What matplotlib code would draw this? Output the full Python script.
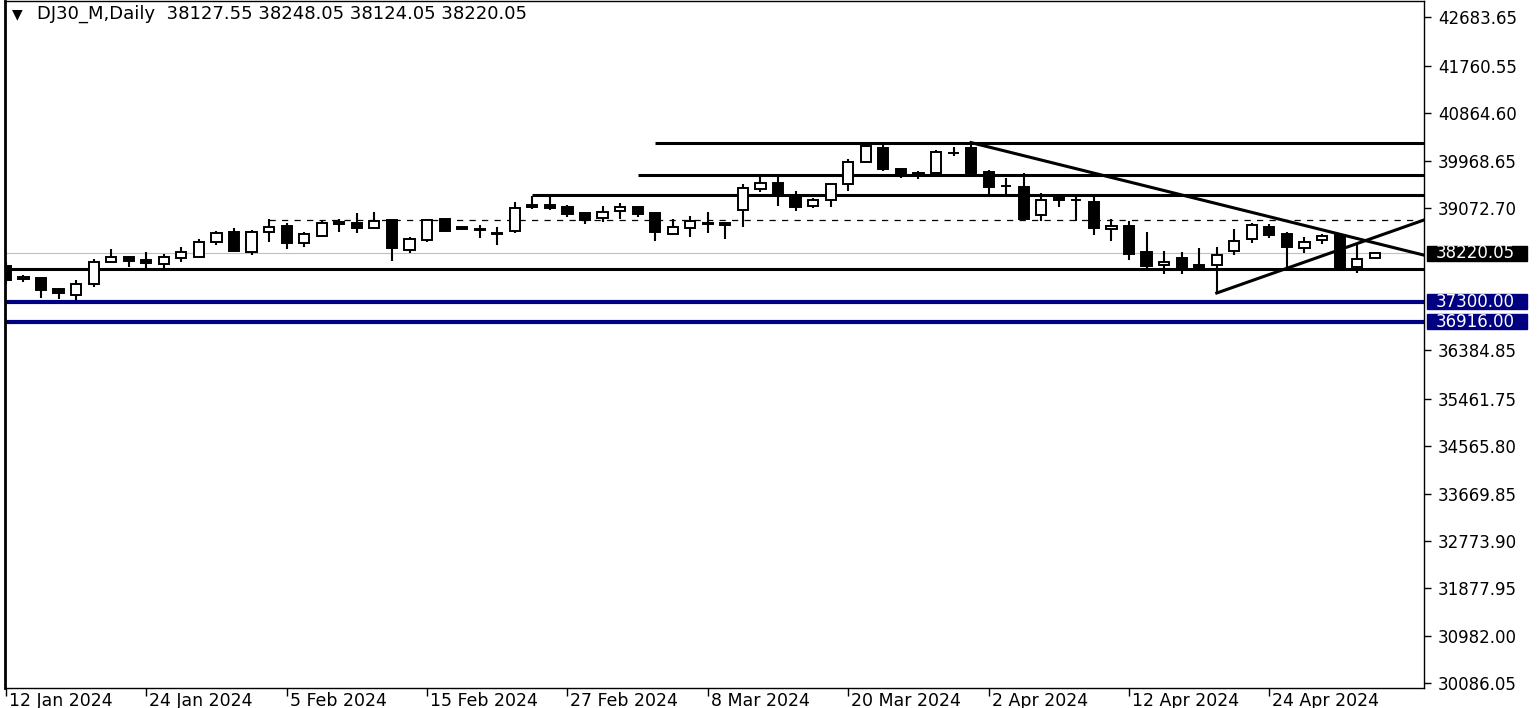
import matplotlib.pyplot as plt
import matplotlib.transforms as mtransforms
from matplotlib.patches import Rectangle
import numpy as np
import pandas as pd

# daily bars, 12 Jan 2024 .. 2 May 2024 (Good Friday has no bar)
dates = [d for d in pd.bdate_range("2024-01-12", "2024-05-02") if d != pd.Timestamp("2024-03-29")]

opens = [37975, 37729, 37748, 37540, 37427, 37635, 38051, 38145, 38089, 38013,
         38126, 38145, 38429, 38619, 38240, 38619, 38732, 38410, 38543, 38770,
         38789, 38694, 38846, 38278, 38467, 38865, 38713, 38675, 38600, 38637,
         39129, 39129, 39092, 38978, 38883, 39016, 39092, 38978, 38581, 38694,
         38770, 38780, 39035, 39432, 39546, 39300, 39111, 39224, 39527, 39943,
         40208, 39811, 39735, 39735, 40113, 40208, 39754, 39489, 39470, 38940,
         39300, 39224, 39186, 38675, 38732, 38240, 37994, 38126, 37994, 37994,
         38259, 38486, 38713, 38581, 38316, 38467, 38562, 37956, 38127.55]
highs = [38051, 37805, 37767, 37559, 37710, 38108, 38297, 38164, 38240, 38202,
         38335, 38486, 38637, 38694, 38656, 38865, 38789, 38619, 38827, 38865,
         38978, 38997, 38865, 38524, 38865, 38883, 38732, 38751, 38713, 39186,
         39300, 39300, 39129, 38978, 39111, 39167, 39111, 38978, 38865, 38921,
         38997, 38789, 39527, 39659, 39659, 39394, 39262, 39546, 40000, 40265,
         40265, 39830, 39773, 40170, 40227, 40321, 39792, 39640, 39735, 39356,
         39319, 39281, 39281, 38865, 38827, 38619, 38259, 38240, 38316, 38335,
         38675, 38789, 38770, 38619, 38524, 38581, 38600, 38373, 38248.05]
lows = [37635, 37673, 37370, 37351, 37332, 37578, 38032, 37956, 37918, 37918,
        38051, 38126, 38373, 38240, 38183, 38429, 38297, 38335, 38524, 38619,
        38600, 38675, 38070, 38221, 38429, 38619, 38656, 38505, 38373, 38600,
        39054, 39035, 38902, 38770, 38808, 38865, 38902, 38448, 38562, 38524,
        38600, 38486, 38713, 39375, 39111, 39016, 39073, 39092, 39394, 39924,
        39773, 39640, 39621, 39716, 40057, 39716, 39338, 39338, 38827, 38827,
        39092, 38827, 38562, 38448, 38089, 37937, 37824, 37824, 37937, 37464,
        38183, 38410, 38505, 37956, 38221, 38391, 37918, 37843, 38124.05]
closes = [37710, 37767, 37521, 37464, 37635, 38051, 38145, 38070, 38032, 38145,
          38240, 38429, 38600, 38259, 38619, 38713, 38410, 38581, 38789, 38808,
          38694, 38827, 38316, 38486, 38846, 38637, 38675, 38656, 38590, 39073,
          39092, 39073, 38959, 38846, 38997, 39092, 38959, 38619, 38713, 38827,
          38780, 38760, 39451, 39546, 39319, 39092, 39224, 39527, 39943, 40246,
          39811, 39697, 39725, 40132, 40104, 39735, 39470, 39480, 38865, 39224,
          39224, 39215, 38694, 38732, 38202, 37975, 38051, 37956, 37956, 38183,
          38448, 38751, 38562, 38335, 38429, 38543, 37937, 38108, 38220.05]

# drawn objects
levels = [40300, 39700, 39310]
level_start = ["2024-03-05", "2024-03-04", "2024-02-23"]
dashed_level = 38846
dashed_start = "2024-02-02"
support = 37910
blue_levels = [37300.00, 36916.00]
bid = 38220.05
trend_down = ("2024-04-01", [40310, 38165])
trend_up = ("2024-04-19", [37464, 38868])

yticks = [42683.65, 41760.55, 40864.60, 39968.65, 39072.70, 36384.85, 35461.75,
          34565.80, 33669.85, 32773.90, 31877.95, 30982.00, 30086.05]
xtick_dates = ["2024-01-12", "2024-01-24", "2024-02-05", "2024-02-15", "2024-02-27",
               "2024-03-08", "2024-03-20", "2024-04-02", "2024-04-12", "2024-04-24"]

idx = {d.strftime("%Y-%m-%d"): i for i, d in enumerate(dates)}
n = len(dates)
x = np.arange(n)
o = np.array(opens); h = np.array(highs); l = np.array(lows); c = np.array(closes)

fig = plt.figure(figsize=(15.38, 7.08), dpi=100)
fig.set_facecolor('white')
ax = fig.add_axes([5 / 1538, 20 / 708, 1419 / 1538, 687 / 708])
xmax = 80.81
ax.set_xlim(-0.05, xmax)
ax.set_ylim(29991, 42989)

# bid line
ax.axhline(bid, color='#c0c0c0', lw=0.8, zorder=1)

# horizontal levels
for lv, st in zip(levels, level_start):
    ax.plot([idx[st], xmax], [lv, lv], color='black', lw=2.2, zorder=2, solid_capstyle='butt')
ax.plot([idx[dashed_start], xmax], [dashed_level] * 2, color='black', lw=0.9,
        ls=(0, (5, 5)), zorder=2)
ax.axhline(support, color='black', lw=2.2, zorder=2)
for lv in blue_levels:
    ax.axhline(lv, color='#000080', lw=3, zorder=2)

# trend lines
for d0, (p0, p1) in [trend_down, trend_up]:
    ax.plot([idx[d0], 81], [p0, p1], color='black', lw=2.2, zorder=2)

# candles
ax.vlines(x, l, h, color='black', lw=1.5, zorder=3)
up = c >= o
body_h = np.maximum(np.abs(c - o), 10)
ax.bar(x, body_h, bottom=np.minimum(o, c), width=0.58,
       color=np.where(up, 'white', 'black'), edgecolor='black', linewidth=1.4, zorder=4)

# axes styling
for s in ax.spines.values():
    s.set_color('black')
    s.set_linewidth(1)
ax.spines['left'].set_linewidth(2)
ax.yaxis.tick_right()
ax.set_yticks(yticks)
ax.set_yticklabels(["%.2f" % v for v in yticks])
ax.tick_params(axis='y', length=5, width=1, pad=5, labelsize=12, colors='black')

xt = [idx[d] for d in xtick_dates]
ax.set_xticks(xt)
ax.set_xticklabels([])
ax.tick_params(axis='x', length=6, width=1)
xlab_trans = mtransforms.blended_transform_factory(ax.transData, ax.transAxes) + \
    mtransforms.ScaledTranslation(3 / 100, 0, fig.dpi_scale_trans)
for pos, d in zip(xt, xtick_dates):
    ts = pd.Timestamp(d)
    ax.text(pos, -4 / 687, "%d %s" % (ts.day, ts.strftime("%b %Y")), transform=xlab_trans,
            fontsize=12.5, ha='left', va='top', clip_on=False)

# price boxes on the right
trans = mtransforms.blended_transform_factory(ax.transAxes, ax.transData)
box_x0 = (1427 - 5) / 1419
box_w = 100 / 1419
box_h = 15 * 18.92
for val, fc in [(bid, 'black'), (blue_levels[0], '#000080'), (blue_levels[1], '#000080')]:
    ax.add_patch(Rectangle((box_x0, val - box_h / 2), box_w, box_h, transform=trans,
                           facecolor=fc, edgecolor=fc, clip_on=False, zorder=5))
    ax.text(box_x0 + 9 / 1419, val, "%.2f" % val, transform=trans, color='white',
            fontsize=12, va='center', ha='left', zorder=6, clip_on=False)

# header
fig.text(12 / 1538, 1 - 14 / 708, "\u25BC", fontsize=10, va='center', ha='left')
fig.text(37 / 1538, 1 - 14 / 708,
         "DJ30_M,Daily  %.2f %.2f %.2f %.2f" % (opens[-1], highs[-1], lows[-1], closes[-1]),
         fontsize=13, va='center', ha='left')

fig.savefig('out.png', dpi=100, facecolor='white')
